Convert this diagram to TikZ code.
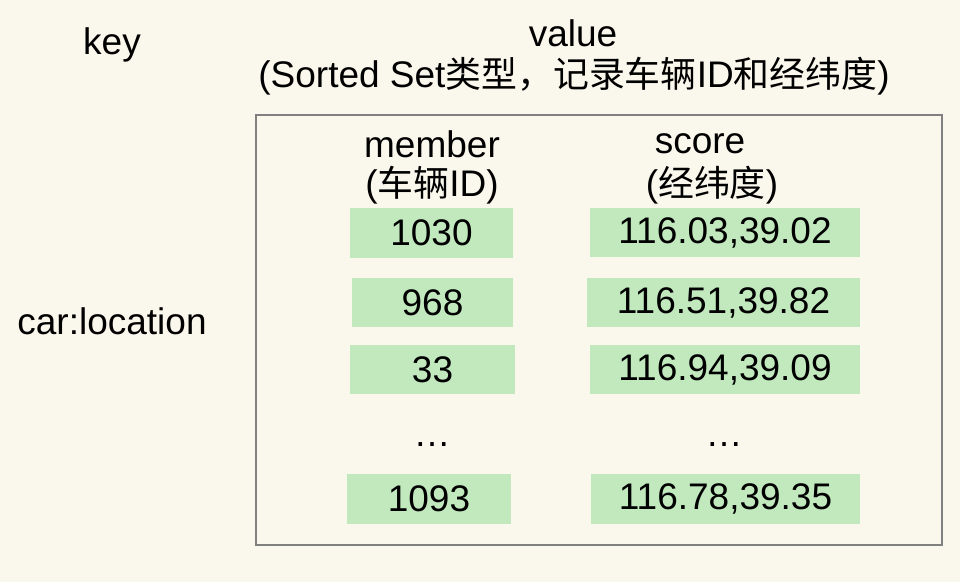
\documentclass[tikz,border=0pt]{standalone}
\usepackage{fontspec}
\setmainfont{Liberation Sans}
\newfontfamily\cjk[Scale=0.97]{Noto Sans CJK SC}
\definecolor{bgc}{RGB}{250,248,236}
\definecolor{cellc}{RGB}{194,233,190}
\definecolor{framec}{RGB}{128,128,128}
\begin{document}
\begin{tikzpicture}[x=1pt,y=-1pt,
  txt/.style={inner sep=0pt,font=\fontsize{37}{42}\selectfont,text=black},
  cell/.style={fill=cellc,draw=none,inner sep=0pt,font=\fontsize{37}{42}\selectfont,text=black}]
\fill[bgc] (0,0) rectangle (960,582);
\useasboundingbox (0,0) rectangle (960,582);
\node[txt] (key) at (112,45) {key};
\node[txt] (value) at (573,33) {value};
\node[txt] (valdesc) at (574,76) {(Sorted Set{\cjk 类型，记录车辆}ID{\cjk 和经纬度})};
\node[txt] (carloc) at (112,321) {car:location};
\node[draw=framec,line width=2pt,minimum width=686pt,minimum height=430pt,inner sep=0pt] (frame) at (599,330) {};
\node[txt] (member) at (432,144) {member};
\node[txt] (memberdesc) at (432,185) {({\cjk 车辆}ID)};
\node[txt] (score) at (700,144) {score};
\node[txt] (scoredesc) at (712,185) {({\cjk 经纬度})};
\node[cell,minimum width=163pt,minimum height=50pt] (m1) at (431.5,233) {1030};
\node[cell,minimum width=161pt,minimum height=49pt] (m2) at (432.5,302.5) {968};
\node[cell,minimum width=165pt,minimum height=49pt] (m3) at (432.5,369.5) {33};
\node[cell,minimum width=164pt,minimum height=50pt] (m5) at (429,499) {1093};
\node[cell,minimum width=270pt,minimum height=49pt] (s1) at (725,232.5) {116.03,39.02};
\node[cell,minimum width=273pt,minimum height=49pt] (s2) at (723.5,302.5) {116.51,39.82};
\node[cell,minimum width=270pt,minimum height=49pt] (s3) at (725,369.5) {116.94,39.09};
\node[cell,minimum width=269pt,minimum height=50pt] (s5) at (725.5,499) {116.78,39.35};
\node[txt] (mdots) at (432,445) {…};
\node[txt] (sdots) at (724,445) {…};
\end{tikzpicture}
\end{document}
